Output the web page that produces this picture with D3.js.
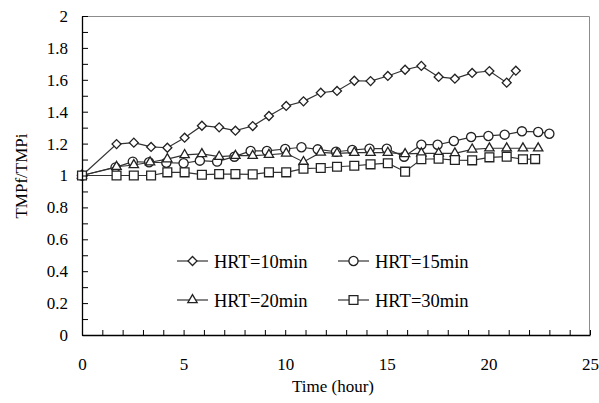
<!DOCTYPE html>
<html>
<head>
<meta charset="utf-8">
<script src="https://cdn.jsdelivr.net/npm/d3@7"></script>
<style>
  html, body { margin: 0; padding: 0; background: #fff; }
  svg { display: block; font-family: "Liberation Serif", "Times New Roman", serif; }
</style>
</head>
<body>
<svg id="tmp-chart"></svg>
<script>
const hrt10Time = [0, 1.7, 2.55, 3.4, 4.2, 5.05, 5.9, 6.75, 7.55, 8.4, 9.2, 10.05, 10.9, 11.75, 12.55, 13.4, 14.2, 15.05, 15.9, 16.7, 17.55, 18.35, 19.2, 20.05, 20.9, 21.35];
const hrt10 = [1.0, 1.197, 1.206, 1.179, 1.174, 1.237, 1.312, 1.302, 1.281, 1.31, 1.373, 1.436, 1.465, 1.519, 1.53, 1.594, 1.592, 1.624, 1.663, 1.687, 1.618, 1.607, 1.643, 1.655, 1.582, 1.657];

const hrt15Time = [0, 1.65, 2.5, 3.3, 4.15, 5.0, 5.8, 6.65, 7.5, 8.3, 9.1, 10.0, 10.8, 11.6, 12.5, 13.3, 14.15, 15.0, 15.85, 16.7, 17.5, 18.3, 19.15, 20.0, 20.8, 21.65, 22.45, 23.0];
const hrt15 = [1.0, 1.051, 1.087, 1.083, 1.08, 1.077, 1.093, 1.087, 1.118, 1.154, 1.154, 1.166, 1.177, 1.164, 1.149, 1.16, 1.168, 1.168, 1.118, 1.193, 1.193, 1.216, 1.241, 1.248, 1.256, 1.277, 1.273, 1.262];

const hrt20Time = [0, 1.7, 2.55, 3.35, 4.2, 5.05, 5.9, 6.75, 7.55, 8.4, 9.2, 10.05, 10.9, 11.75, 12.55, 13.4, 14.2, 15.05, 15.9, 16.7, 17.55, 18.35, 19.2, 20.05, 20.9, 21.7, 22.45];
const hrt20 = [1.0, 1.055, 1.066, 1.083, 1.103, 1.129, 1.135, 1.118, 1.124, 1.124, 1.13, 1.139, 1.085, 1.145, 1.139, 1.143, 1.143, 1.143, 1.135, 1.139, 1.139, 1.139, 1.164, 1.171, 1.171, 1.171, 1.171];

const hrt30Time = [0, 1.7, 2.55, 3.4, 4.2, 5.05, 5.9, 6.75, 7.55, 8.4, 9.2, 10.05, 10.9, 11.75, 12.55, 13.4, 14.2, 15.05, 15.9, 16.7, 17.55, 18.35, 19.2, 20.05, 20.9, 21.7, 22.3];
const hrt30 = [1.0, 1.0, 1.0, 1.0, 1.02, 1.02, 1.005, 1.009, 1.009, 1.007, 1.02, 1.02, 1.043, 1.047, 1.055, 1.061, 1.07, 1.077, 1.024, 1.102, 1.105, 1.097, 1.095, 1.114, 1.118, 1.102, 1.103];

const seriesNames = ['HRT=10min', 'HRT=15min', 'HRT=20min', 'HRT=30min'];
const xTicks = d3.range(0, 26, 1);
const xLabels = [0, 5, 10, 15, 20, 25];
const yTicks = d3.range(0, 21, 1).map(d => d / 10);
const yLabels = [0, 0.2, 0.4, 0.6, 0.8, 1, 1.2, 1.4, 1.6, 1.8, 2];

const size = { width: 599, height: 403 };
const margin = { top: 16, right: 9, bottom: 68, left: 82 };

// marker shape per series
const markers = {
  'HRT=10min': { type: d3.symbolSquare, size: 40, rotate: 45 },
  'HRT=15min': { type: d3.symbolCircle, size: 66, rotate: 0 },
  'HRT=20min': { type: d3.symbolTriangle, size: 38, rotate: 0 },
  'HRT=30min': { type: d3.symbolSquare, size: 78, rotate: 0 }
};

function buildSeries() {
  const times = [hrt10Time, hrt15Time, hrt20Time, hrt30Time];
  const values = [hrt10, hrt15, hrt20, hrt30];
  return seriesNames.map((name, i) => ({
    name: name,
    points: values[i].map((v, j) => ({ time: times[i][j], value: v }))
  }));
}

function getXScale() {
  return d3.scaleLinear().domain([0, 25]).range([margin.left, size.width - margin.right]);
}

function getYScale() {
  return d3.scaleLinear().domain([0, 2]).range([size.height - margin.bottom, margin.top]);
}

function drawFrame(svg, x, y) {
  svg.append('path')
    .attr('fill', 'none')
    .attr('stroke', '#8c8c8c')
    .attr('stroke-width', 1)
    .attr('d', `M${x(0)},${y(2) + 0.5}H${x(25) - 0.5}V${y(0)}`);
}

function drawYAxis(svg, y, x) {
  const g = svg.append('g')
    .attr('transform', `translate(${x(0)},0)`)
    .call(d3.axisLeft(y)
      .tickValues(yTicks)
      .tickSizeInner(-6)
      .tickSizeOuter(0)
      .tickPadding(14)
      .tickFormat(d => {
        const r = Math.round(d * 10) / 10;
        return yLabels.some(l => Math.abs(l - r) < 1e-9) ? String(r) : '';
      }));
  g.select('.domain').attr('stroke', '#000').attr('stroke-width', 1.3);
  g.selectAll('.tick line').attr('stroke', '#000').attr('stroke-width', 1);
  g.selectAll('.tick text')
    .attr('fill', '#000')
    .style('font-size', '17px')
    .style('font-family', '"Liberation Serif", "Times New Roman", serif');
}

function drawXAxis(svg, x, y) {
  const g = svg.append('g')
    .attr('transform', `translate(0,${y(0)})`)
    .call(d3.axisBottom(x)
      .tickValues(xTicks)
      .tickSizeInner(-5)
      .tickSizeOuter(0)
      .tickPadding(23)
      .tickFormat(d => xLabels.includes(d) ? String(d) : ''));
  g.select('.domain').attr('stroke', '#000').attr('stroke-width', 1.3);
  g.selectAll('.tick line').attr('stroke', '#000').attr('stroke-width', 1);
  g.selectAll('.tick text')
    .attr('fill', '#000')
    .style('font-size', '17px')
    .style('font-family', '"Liberation Serif", "Times New Roman", serif');
}

function drawTitles(svg) {
  svg.append('text')
    .attr('transform', 'translate(27,176) rotate(-90)')
    .attr('text-anchor', 'middle')
    .style('font-size', '17px')
    .text('TMPf/TMPi');

  svg.append('text')
    .attr('x', 333)
    .attr('y', 392)
    .attr('text-anchor', 'middle')
    .style('font-size', '17px')
    .text('Time (hour)');
}

function symbolPath(name) {
  const m = markers[name];
  return d3.symbol().type(m.type).size(m.size)();
}

function drawSeries(svg, series, x, y) {
  const line = d3.line()
    .x(d => x(d.time))
    .y(d => y(d.value))
    .curve(d3.curveLinear);

  series.forEach(s => {
    const g = svg.append('g').attr('class', 'series');
    g.append('path')
      .attr('fill', 'none')
      .attr('stroke', '#333')
      .attr('stroke-width', 1.2)
      .attr('d', line(s.points));
    g.selectAll('.marker')
      .data(s.points)
      .enter()
      .append('path')
      .attr('class', 'marker')
      .attr('transform', d => `translate(${x(d.time)},${y(d.value)}) rotate(${markers[s.name].rotate})`)
      .attr('d', symbolPath(s.name))
      .attr('fill', '#fff')
      .attr('stroke', '#222')
      .attr('stroke-width', 1.3);
  });
}

function drawLegend(svg) {
  const cols = [177, 338];
  const rows = [261, 300];
  const items = seriesNames.map((name, i) => ({
    name: name,
    x: cols[i % 2],
    y: rows[Math.floor(i / 2)]
  }));
  const g = svg.append('g').attr('class', 'legend');
  const item = g.selectAll('.legend-item')
    .data(items)
    .enter()
    .append('g')
    .attr('transform', d => `translate(${d.x},${d.y})`);
  item.append('line')
    .attr('x1', 0).attr('x2', 31)
    .attr('y1', 0).attr('y2', 0)
    .attr('stroke', '#333')
    .attr('stroke-width', 1.2);
  item.append('path')
    .attr('transform', d => `translate(15.5,0) rotate(${markers[d.name].rotate})`)
    .attr('d', d => symbolPath(d.name))
    .attr('fill', '#fff')
    .attr('stroke', '#222')
    .attr('stroke-width', 1.3);
  item.append('text')
    .attr('x', 37)
    .attr('y', 6.5)
    .style('font-size', '18.5px')
    .text(d => d.name);
}

function createChart() {
  const svg = d3.select('#tmp-chart')
    .attr('width', size.width)
    .attr('height', size.height);
  const x = getXScale();
  const y = getYScale();
  drawFrame(svg, x, y);
  drawSeries(svg, buildSeries(), x, y);
  drawYAxis(svg, y, x);
  drawXAxis(svg, x, y);
  drawTitles(svg);
  drawLegend(svg);
}

createChart();
</script>
</body>
</html>
